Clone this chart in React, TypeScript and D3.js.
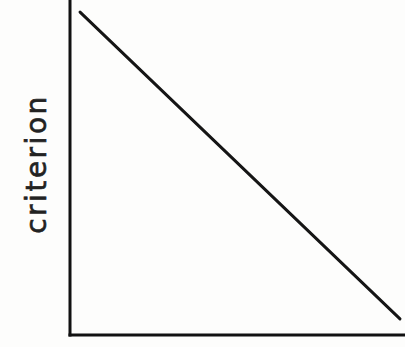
import React from "react";
import * as d3 from "d3";

const xValues = [3, 98.5];
const yValues = [96.4, 4.8];
const yLabel = "criterion";

const W = 405;
const H = 347;

export default function App() {
  const x = d3.scaleLinear().domain([0, 100]).range([70, 405]);
  const y = d3.scaleLinear().domain([0, 100]).range([335, 0]);
  const pts: [number, number][] = xValues.map((v, i) => [v, yValues[i]]);
  const line = d3
    .line<[number, number]>()
    .x((d) => x(d[0]))
    .y((d) => y(d[1]));
  return (
    <svg
      width={W}
      height={H}
      style={{ position: "absolute", left: 0, top: 0, background: "#fdfdfc" }}
    >
      <line x1={x(0)} x2={x(0)} y1={0} y2={y(0) + 1.5} stroke="#111" strokeWidth={3} />
      <line x1={x(0) - 1.5} x2={W} y1={y(0)} y2={y(0)} stroke="#111" strokeWidth={3} />
      <path d={line(pts) || ""} fill="none" stroke="#151515" strokeWidth={3} strokeLinecap="round" />
      <text
        transform={`translate(46,${164}) rotate(-90)`}
        textAnchor="middle"
        fontFamily="DejaVu Sans"
        fontSize={28}
        letterSpacing={2.5}
        fill="#222"
        stroke="#222"
        strokeWidth={0.6}
      >
        {yLabel}
      </text>
    </svg>
  );
}
